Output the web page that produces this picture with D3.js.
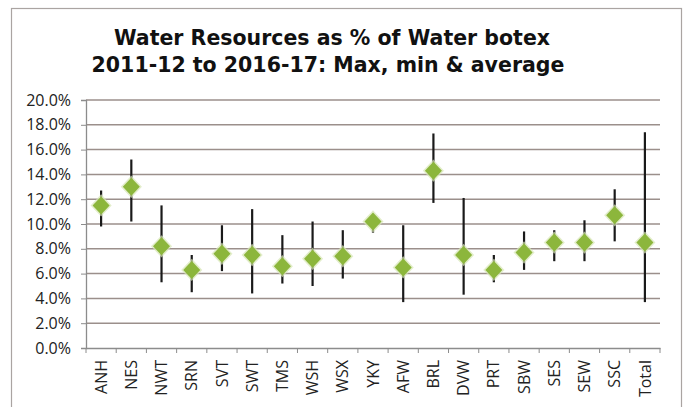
<!DOCTYPE html>
<html>
<head>
<meta charset="utf-8">
<script src="https://cdn.jsdelivr.net/npm/d3@7"></script>
<style>
  body { margin: 0; background: #fff; }
  svg { display: block; }
</style>
</head>
<body>
<div id="chart"></div>
<script>
// Water Resources as % of Water botex: max, min and average per company
var companies = ['ANH', 'NES', 'NWT', 'SRN', 'SVT', 'SWT', 'TMS', 'WSH', 'WSX', 'YKY',
                 'AFW', 'BRL', 'DVW', 'PRT', 'SBW', 'SES', 'SEW', 'SSC', 'Total'];
var maxVals = [12.7, 15.2, 11.5, 7.5, 9.9, 11.2, 9.1, 10.2, 9.5, 10.4,
               9.9, 17.3, 12.1, 7.5, 9.4, 9.5, 10.3, 12.8, 17.4];
var minVals = [9.8, 10.2, 5.3, 4.5, 6.2, 4.4, 5.2, 5.0, 5.6, 9.3,
               3.7, 11.7, 4.3, 5.3, 6.3, 7.0, 7.0, 8.6, 3.7];
var avgVals = [11.5, 13.0, 8.2, 6.3, 7.6, 7.5, 6.6, 7.2, 7.4, 10.2,
               6.5, 14.3, 7.5, 6.3, 7.7, 8.5, 8.5, 10.7, 8.5];
var yTicks = [0, 2, 4, 6, 8, 10, 12, 14, 16, 18, 20];

var width = 686, height = 407;
var margin = {left: 86, right: 26, top: 100, bottom: 59};

var rows = companies.map(function(c, i) {
    return {name: c, max: maxVals[i], min: minVals[i], avg: avgVals[i]};
});

var svg = d3.select('#chart').append('svg')
    .attr('width', width).attr('height', height);

// outer chart border
svg.append('rect')
    .attr('x', 11.5).attr('y', 8.5)
    .attr('width', 670).attr('height', 420)
    .attr('fill', 'none').attr('stroke', '#aaa4a2').attr('stroke-width', 1.2);

var x = d3.scaleBand()
    .domain(companies)
    .range([margin.left, width - margin.right]);

var y = d3.scaleLinear()
    .domain([0, 20])
    .range([height - margin.bottom, margin.top]);

// title
var title = svg.append('text')
    .attr('text-anchor', 'middle')
    .style('font-family', '"DejaVu Sans", Verdana, sans-serif')
    .style('font-weight', 'bold')
    .style('font-size', '20.5px')
    .attr('fill', '#111');
title.append('tspan').attr('x', 332).attr('y', 45).text('Water Resources as % of Water botex');
title.append('tspan').attr('x', 328).attr('y', 72).text('2011-12 to 2016-17: Max, min & average');

// gridlines
svg.append('g').selectAll('line')
    .data(yTicks.filter(function(d) { return d > 0; }))
    .enter().append('line')
    .attr('x1', margin.left).attr('x2', width - margin.right)
    .attr('y1', function(d) { return y(d); })
    .attr('y2', function(d) { return y(d); })
    .attr('stroke', '#9b8f8b').attr('stroke-width', 1.5);

// y axis
var yAxis = svg.append('g')
    .attr('transform', 'translate(' + margin.left + ',0)')
    .call(d3.axisLeft(y).tickValues(yTicks)
        .tickFormat(function(d) { return d.toFixed(1) + '%'; })
        .tickSize(5).tickPadding(10));
yAxis.selectAll('text')
    .style('font-family', '"Open Sans", sans-serif')
    .style('font-size', '16px')
    .attr('fill', '#222');

// x axis with ticks at category boundaries
var xAxis = svg.append('g')
    .attr('transform', 'translate(0,' + y(0) + ')')
    .call(d3.axisBottom(x).tickSize(0).tickPadding(0));
xAxis.selectAll('.tick line').remove();
xAxis.selectAll('text')
    .attr('transform', 'rotate(-90)')
    .attr('x', -12).attr('y', 0).attr('dy', '0.35em')
    .attr('text-anchor', 'end')
    .style('font-family', '"Open Sans", sans-serif')
    .style('font-size', '16px')
    .attr('fill', '#222');
xAxis.selectAll('.bound')
    .data(d3.range(companies.length + 1))
    .enter().append('line')
    .attr('class', 'bound')
    .attr('x1', function(i) { return margin.left + i * x.step(); })
    .attr('x2', function(i) { return margin.left + i * x.step(); })
    .attr('y1', 0).attr('y2', 5)
    .attr('stroke', '#8c8c8c');

svg.selectAll('.domain').attr('stroke', '#8c8c8c').attr('stroke-width', 1.3);
yAxis.selectAll('.tick line').attr('stroke', '#8c8c8c');

// max-min bars
var cx = function(d) { return x(d.name) + x.bandwidth() / 2; };
svg.append('g').selectAll('line')
    .data(rows)
    .enter().append('line')
    .attr('x1', cx).attr('x2', cx)
    .attr('y1', function(d) { return y(d.max); })
    .attr('y2', function(d) { return y(d.min); })
    .attr('stroke', '#1a1a1a').attr('stroke-width', 2.2);

// average diamonds (soft glow behind)
var diamond = 'M0,-9L8.5,0L0,9L-8.5,0Z';
var marks = svg.append('g').selectAll('g')
    .data(rows)
    .enter().append('g')
    .attr('transform', function(d) { return 'translate(' + cx(d) + ',' + y(d.avg) + ')'; });
marks.append('path')
    .attr('d', diamond)
    .attr('fill', '#c9dd9a').attr('stroke', '#d8e7b6').attr('stroke-width', 3)
    .attr('opacity', 0.7);
marks.append('path')
    .attr('d', diamond)
    .attr('fill', '#8cb63c');
</script>
</body>
</html>
